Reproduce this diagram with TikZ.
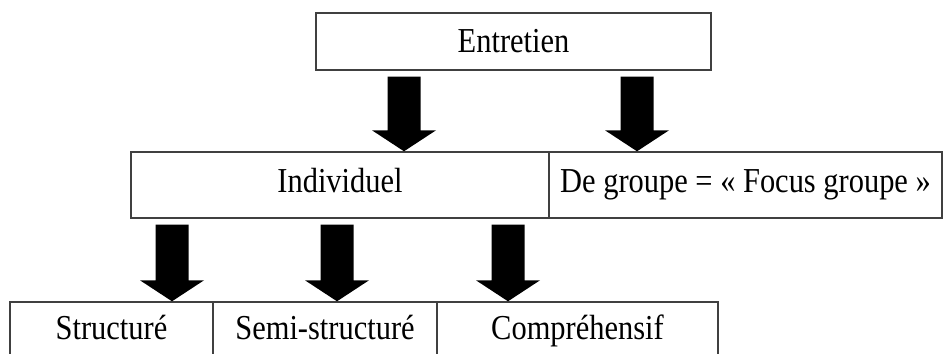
\documentclass[tikz,border=0pt]{standalone}
\usepackage{fontspec}
\setmainfont{Liberation Serif}[FakeStretch=0.87]
\usetikzlibrary{calc}
\tikzset{
  box/.style={draw=black!75, line width=1.4pt, rectangle, inner sep=0pt,
    font=\fontsize{35}{40}\selectfont, text height=24pt, text depth=9.8pt},
}
% Block arrow from the bottom of node #1 to the top of node #2, centred at x = #3
\newcommand\fatarrow[3]{%
  \fill[black] let \p1=(#1.south), \p2=(#2.north) in
    (#3pt-16.5pt,\y1-6pt) -- (#3pt+16.5pt,\y1-6pt) -- (#3pt+16.5pt,\y2+21pt)
    -- (#3pt+32pt,\y2+21pt) -- (#3pt,\y2) -- (#3pt-32pt,\y2+21pt)
    -- (#3pt-16.5pt,\y2+21pt) -- cycle;}
\begin{document}
\begin{tikzpicture}[x=1pt,y=-1pt]
\useasboundingbox (0,0) rectangle (944,353);
\clip (0,0) rectangle (944,353);
\fill[white] (0,0) rectangle (944,353);

% first level
\node[box, minimum width=395pt, minimum height=57pt, text depth=2.8pt] (ent) at (513.5,41.5) {Entretien};

% second level
\node[box, minimum width=418pt, minimum height=66pt] (ind) at (340,185) {Individuel};
\node[box, minimum width=393pt, minimum height=66pt] (grp) at (745.5,185) {De groupe = «~Focus groupe~»};

% third level
\node[box, minimum width=203pt, minimum height=60pt] (str) at (111.5,332) {Structuré};
\node[box, minimum width=224pt, minimum height=60pt] (semi) at (325,332) {Semi-structuré};
\node[box, minimum width=281pt, minimum height=60pt] (comp) at (577.5,332) {Compréhensif};

% connectors
\fatarrow{ent}{ind}{404}
\fatarrow{ent}{grp}{637}
\fatarrow{ind}{str}{172}
\fatarrow{ind}{semi}{337}
\fatarrow{ind}{comp}{508}
\end{tikzpicture}
\end{document}
